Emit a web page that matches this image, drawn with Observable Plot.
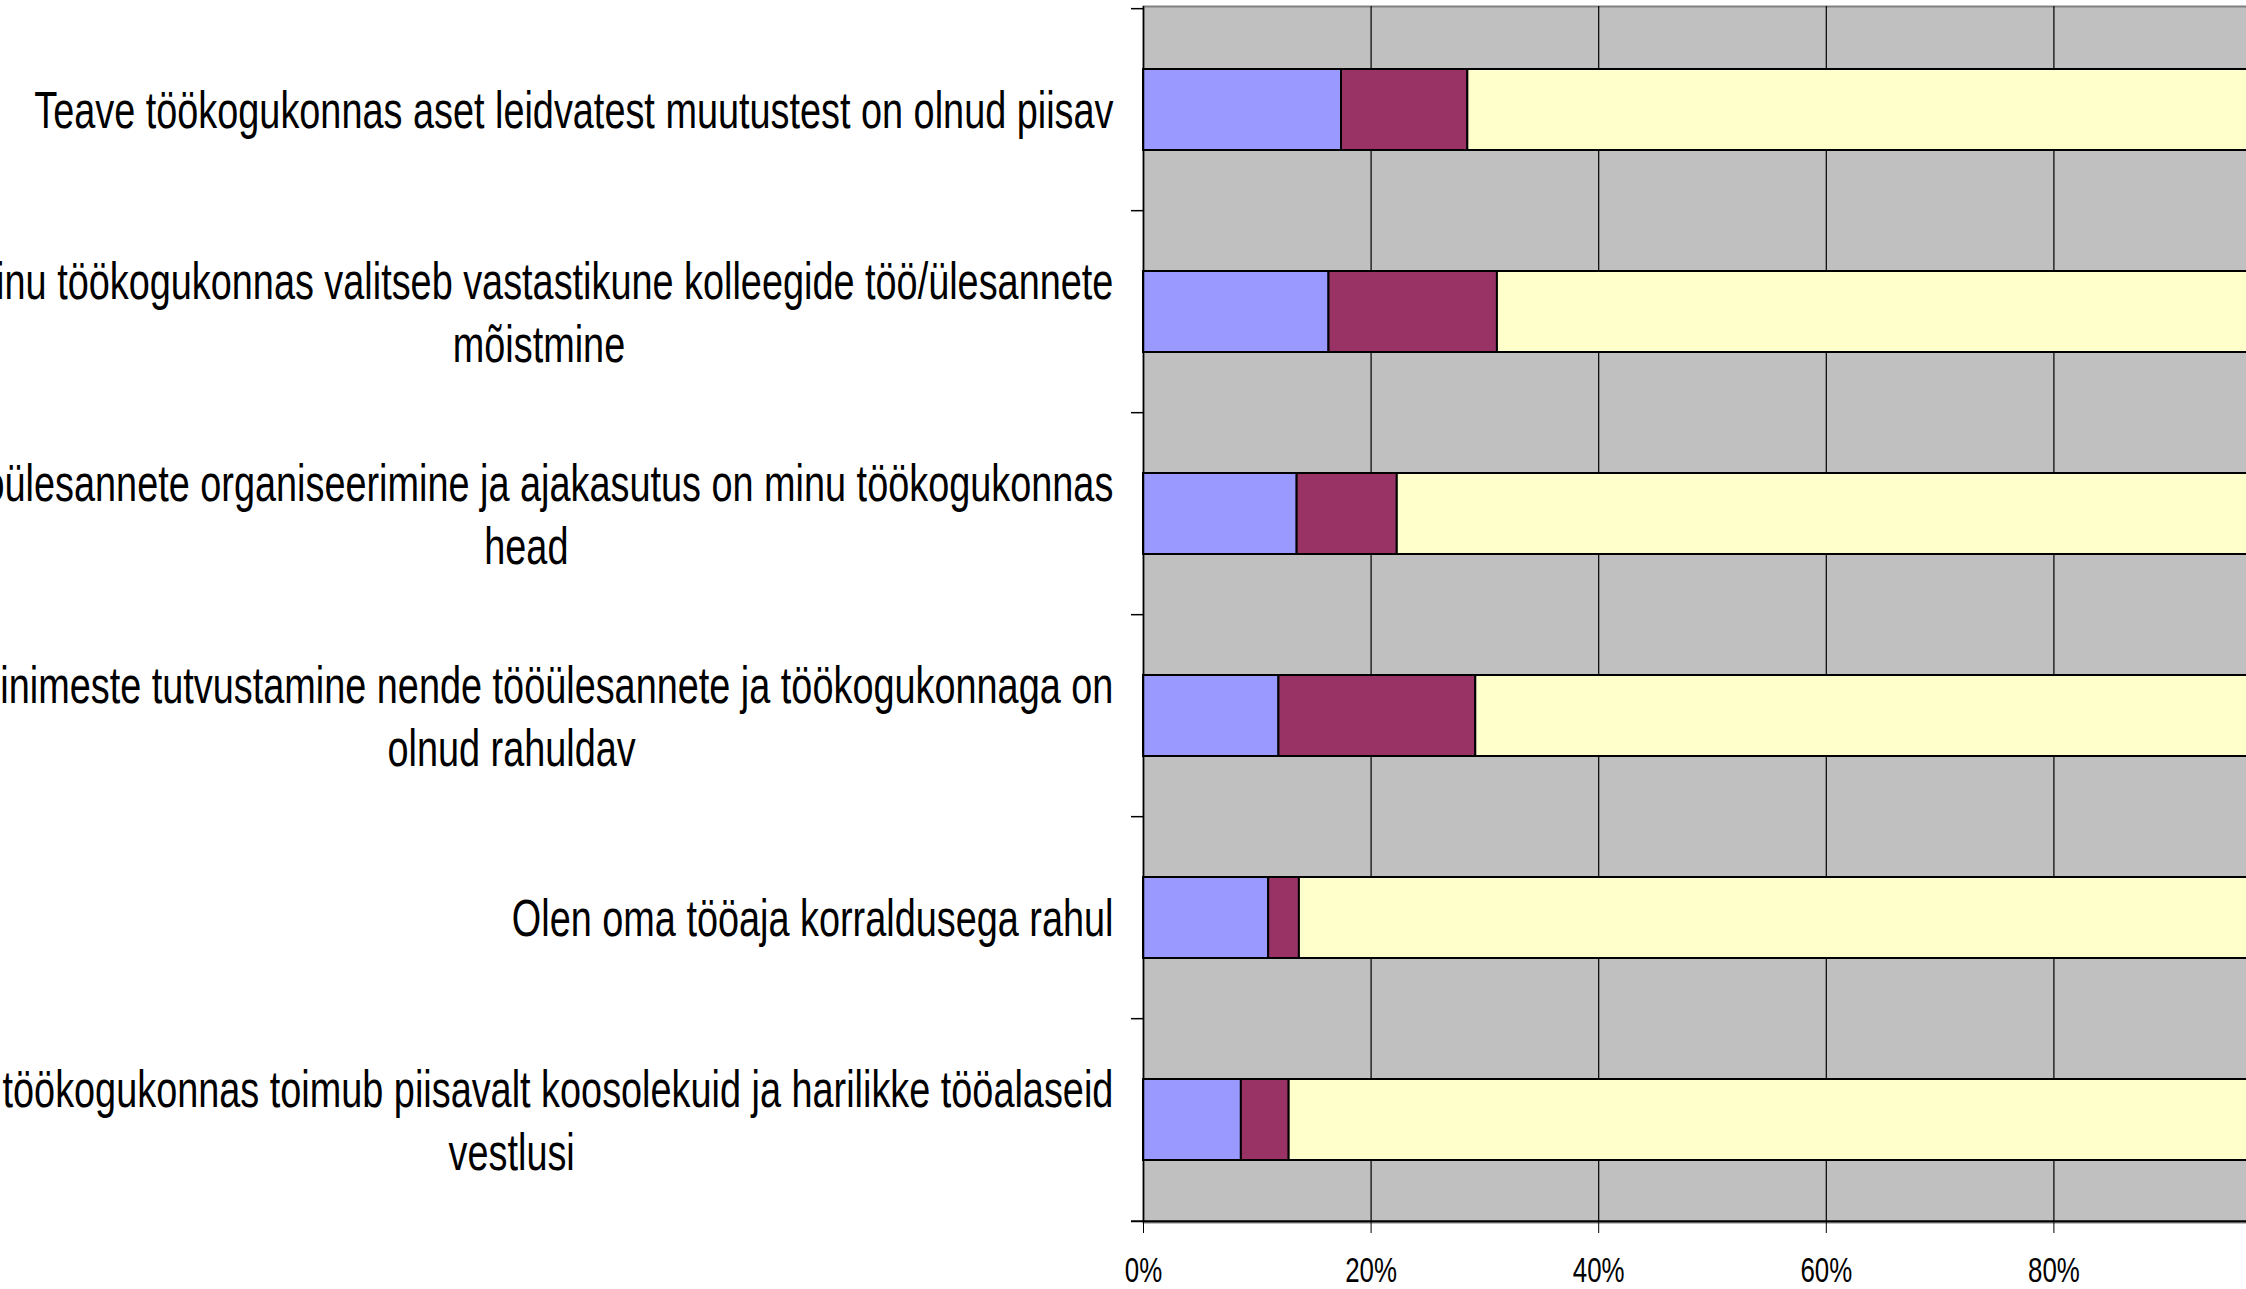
<!DOCTYPE html>
<html>
<head>
<meta charset="utf-8">
<script src="https://cdn.jsdelivr.net/npm/d3@7"></script>
<script src="https://cdn.jsdelivr.net/npm/@observablehq/plot@0.6"></script>
<style>
  html, body { margin: 0; padding: 0; background: #fff; overflow: hidden; }
  #chart { width: 2246px; height: 1289px; overflow: hidden; }
</style>
</head>
<body>
<div id="chart"></div>
<script>
// ---- data ----
const categories = [
  "Teave töökogukonnas aset leidvatest muutustest on olnud piisav",
  "Minu töökogukonnas valitseb vastastikune kolleegide töö/ülesannete mõistmine",
  "Tööülesannete organiseerimine ja ajakasutus on minu töökogukonnas head",
  "Uute inimeste tutvustamine nende tööülesannete ja töökogukonnaga on olnud rahuldav",
  "Olen oma tööaja korraldusega rahul",
  "Minu töökogukonnas toimub piisavalt koosolekuid ja harilikke tööalaseid vestlusi"
];
const categoryLines = [
  "Teave töökogukonnas aset leidvatest muutustest on olnud piisav",
  "Minu töökogukonnas valitseb vastastikune kolleegide töö/ülesannete\nmõistmine",
  "Tööülesannete organiseerimine ja ajakasutus on minu töökogukonnas\nhead",
  "Uute inimeste tutvustamine nende tööülesannete ja töökogukonnaga on\nolnud rahuldav",
  "Olen oma tööaja korraldusega rahul",
  "Minu töökogukonnas toimub piisavalt koosolekuid ja harilikke tööalaseid\nvestlusi"
];
const seriesNames = ["Ei nõustu", "Ei oska öelda", "Nõustun"];
const seriesColors = ["#9999FF", "#993366", "#FFFFCC"];
const disagree = [17.4, 16.3, 13.5, 11.9, 11.0, 8.6];
const neutral  = [11.1, 14.8, 8.8, 17.3, 2.7, 4.2];
const agree    = [71.5, 68.9, 77.7, 70.8, 86.3, 87.2];
const xTicks = [0, 20, 40, 60, 80, 100];
const xTickLabels = ["0%", "20%", "40%", "60%", "80%", "100%"];

// ---- table ----
const seriesValues = [disagree, neutral, agree];
const rows = [];
categories.forEach((c, i) => {
  seriesNames.forEach((s, j) => rows.push({category: c, series: s, value: seriesValues[j][i]}));
});
const labelOf = new Map(categories.map((c, i) => [c, categoryLines[i]]));
const tickLabelOf = new Map(xTicks.map((t, i) => [t, xTickLabels[i]]));

// ---- layout ----
const W = 2246, H = 1289;
const mTop = 6, mBottom = 67, mLeft = 1143, mRight = -35;
const step = (H - mTop - mBottom) / categories.length;
const tickLen = 12 / ((W - mRight - mLeft) / 100);

const svg = Plot.plot({
  width: W,
  height: H,
  marginTop: mTop,
  marginBottom: mBottom,
  marginLeft: mLeft,
  marginRight: mRight,
  style: {fontFamily: "'Liberation Sans', Arial, sans-serif", background: "#fff", color: "#000"},
  x: {domain: [0, 100], label: null},
  y: {domain: categories, paddingInner: 0.6, paddingOuter: 0.3, axis: null},
  color: {domain: seriesNames, range: seriesColors},
  marks: [
    Plot.frame({fill: "#C0C0C0", stroke: "#808080", strokeWidth: 2}),
    Plot.ruleX(xTicks.slice(1), {stroke: "#000", strokeWidth: 1.2}),
    Plot.barX(rows, Plot.stackX({x: "value", y: "category", fill: "series", stroke: "#000", strokeWidth: 2, order: seriesNames})),
    Plot.ruleX([0], {stroke: "#000", strokeWidth: 1.5}),
    // band-edge tick marks on the category axis
    Plot.ruleY(categories, {y: d => d, x1: -tickLen, x2: 0, dy: -step / 2, stroke: "#000", strokeWidth: 1.5}),
    Plot.ruleY([categories[categories.length - 1]], {y: d => d, x1: -tickLen, x2: 100, dy: step / 2, stroke: "#000", strokeWidth: 2}),
    Plot.axisX({ticks: xTicks, tickFormat: d => tickLabelOf.get(d), tickSize: 11, tickPadding: 24, fontSize: 35, label: null}),
    Plot.text(categories, {y: d => d, x: 0, dx: -30, dy: -2, text: d => labelOf.get(d), textAnchor: "end", lineAnchor: "middle", lineHeight: 1.21, fontSize: 52, fill: "#000"})
  ]
});
document.getElementById("chart").append(svg);

// horizontally condensed text, lines of a wrapped label centred on the first line
const SX = 0.728;
svg.querySelectorAll('g[aria-label="text"] text').forEach(t => {
  const spans = t.querySelectorAll("tspan");
  if (spans.length > 1) {
    const w = spans[0].getComputedTextLength();
    spans.forEach(s => s.setAttribute("x", -w / 2));
    t.setAttribute("text-anchor", "middle");
  }
  t.setAttribute("transform", (t.getAttribute("transform") || "") + ` scale(${SX},1)`);
});
svg.querySelectorAll('g[aria-label="x-axis tick label"] text').forEach(t => {
  t.setAttribute("transform", (t.getAttribute("transform") || "") + ` scale(0.74,1)`);
});
</script>
</body>
</html>
